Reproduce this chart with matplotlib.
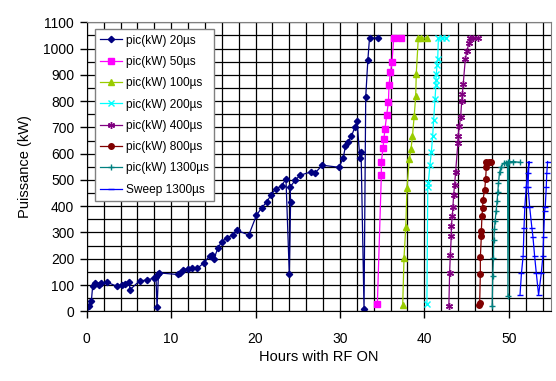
import matplotlib
matplotlib.use("Agg")
import matplotlib.pyplot as plt
from matplotlib.ticker import MultipleLocator

plt.rcParams['font.family'] = ['Liberation Sans', 'DejaVu Sans']

# pic(kW) 20us
h20 = [0, 0.27, 0.55, 0.7, 0.98, 1.46, 1.66, 2.44, 3.59, 4.2, 4.53, 5.04, 5.12, 6.3, 7.1,
       7.97, 8.2, 8.33, 8.5, 8.6, 10.76, 11.04, 11.43, 11.95, 12.5, 13.1, 13.9, 14.55, 14.87,
       15.07, 15.54, 15.97, 16.56, 17.3, 17.75, 19.2, 20.1, 20.75, 21.3, 21.8, 22.4, 23.1,
       23.6, 24.0, 24.15, 24.1, 24.7, 25.3, 26.6, 27.1, 27.9, 29.9, 30.4, 30.65, 30.95,
       31.36, 31.75, 32.03, 32.35, 32.5, 32.85, 33.05, 33.3, 33.5, 34.5]
p20 = [15, 20, 40, 95, 108, 101, 108, 110, 95, 101, 104, 110, 82, 117, 118,
       127, 131, 15, 142, 146, 140, 146, 157, 162, 163, 163, 185, 210, 216,
       200, 240, 264, 279, 291, 309, 290, 365, 395, 415, 441, 467, 477,
       505, 140, 415, 473, 499, 518, 531, 528, 556, 548, 585, 630, 646,
       666, 700, 723, 585, 608, 8, 815, 955, 1040, 1040]

# pic(kW) 50us
h50 = [34.43, 34.9, 34.9, 35.1, 35.2, 35.34, 35.54, 35.74, 35.81, 35.98, 36.17, 36.37, 37.28]
p50 = [27, 518, 569, 620, 656, 695, 749, 796, 860, 910, 950, 1040, 1040]

# pic(kW) 100us
h100 = [37.43, 37.59, 37.79, 37.94, 38.22, 38.42, 38.58, 38.8, 38.97, 39.04, 39.28, 39.6, 40.3]
p100 = [22, 204, 319, 470, 580, 618, 666, 745, 818, 905, 1040, 1040, 1040]

# pic(kW) 200us
h200 = [40.3, 40.4, 40.47, 40.66, 40.83, 40.98, 41.1, 41.26, 41.37, 41.37, 41.42, 41.5,
        41.58, 41.66, 42.13, 42.6]
p200 = [27, 474, 490, 557, 608, 667, 728, 808, 862, 882, 905, 938, 962, 1040, 1040, 1040]

# pic(kW) 400us
h400 = [42.9, 42.99, 43.07, 43.19, 43.19, 43.31, 43.38, 43.46, 43.58, 43.7, 43.97, 44.0,
        44.14, 44.3, 44.42, 44.5, 44.6, 44.85, 45.04, 45.28, 45.44, 45.75, 46.34]
p400 = [20, 146, 213, 287, 323, 362, 396, 441, 480, 531, 640, 667,
        705, 741, 800, 828, 865, 960, 992, 1020, 1040, 1040, 1040]

# pic(kW) 800us
h800 = [46.46, 46.55, 46.63, 46.63, 46.75, 46.75, 46.82, 46.9, 46.94, 47.14, 47.26, 47.34,
        47.34, 47.65, 47.93]
p800 = [24, 31, 142, 206, 287, 306, 362, 393, 425, 460, 505, 550, 570, 570, 570]

# pic(kW) 1300us
h1300 = [48.03, 48.1, 48.18, 48.22, 48.3, 48.38, 48.5, 48.62, 48.7, 48.78, 48.9, 49.1,
         49.38, 49.62, 49.85, 49.9, 50.0, 50.5, 51.3]
p1300 = [20, 134, 202, 271, 312, 344, 382, 420, 455, 487, 529, 550,
         563, 566, 569, 58, 569, 570, 567]

# Sweep 1300us
hsw = [51.33, 51.5, 51.7, 51.8, 51.9, 52.07, 52.23, 52.4, 52.27, 52.47, 52.74, 52.86,
       53.06, 53.26, 53.53, 53.85, 54.04, 54.12, 54.24, 54.32, 54.44, 54.5, 54.6]
psw = [62, 145, 210, 316, 398, 474, 525, 570, 474, 398, 316, 284,
       210, 145, 62, 145, 210, 284, 380, 398, 474, 525, 570]

series = [
    (h20, p20, 'pic(kW) 20µs', '#000080', 'D', 3.2),
    (h50, p50, 'pic(kW) 50µs', '#FF00FF', 's', 3.8),
    (h100, p100, 'pic(kW) 100µs', '#99CC00', '^', 4.2),
    (h200, p200, 'pic(kW) 200µs', '#00FFFF', 'x', 4),
    (h400, p400, 'pic(kW) 400µs', '#800080', (6, 2, 0), 5),
    (h800, p800, 'pic(kW) 800µs', '#800000', 'o', 4),
    (h1300, p1300, 'pic(kW) 1300µs', '#008080', '+', 5),
    (hsw, psw, 'Sweep 1300µs', '#0000FF', '_', 4),
]

fig = plt.figure(figsize=(5.56, 3.81), dpi=100)
ax = fig.add_axes([0.156, 0.183, 0.835, 0.7585])

for x, y, lab, c, m, ms in series:
    ax.plot(x, y, color=c, marker=m, markersize=ms, lw=0.9, label=lab,
            markeredgecolor=c, markerfacecolor=c, markeredgewidth=1)

ax.set_xlim(0, 55)
ax.set_ylim(0, 1100)
ax.xaxis.set_major_locator(MultipleLocator(10))
ax.xaxis.set_minor_locator(MultipleLocator(2))
ax.yaxis.set_major_locator(MultipleLocator(100))
ax.yaxis.set_minor_locator(MultipleLocator(50))
ax.grid(True, which='both', color='black', lw=0.9)
ax.set_axisbelow(True)
ax.tick_params(axis='both', which='major', direction='out', length=5, width=1,
               labelsize=10)
ax.tick_params(axis='x', which='major', pad=10)
ax.tick_params(axis='y', which='major', pad=4)
ax.tick_params(axis='both', which='minor', length=0)
for s in ['top', 'right']:
    ax.spines[s].set_color('#808080')
for s in ['left', 'bottom']:
    ax.spines[s].set_color('black')

ax.set_xlabel('Hours with RF ON', fontsize=10.5, labelpad=3)
ax.set_ylabel('Puissance (kW)', fontsize=10.5, labelpad=8)

leg = ax.legend(loc='upper left', bbox_to_anchor=(0.018, 0.976), borderaxespad=0,
                fontsize=8.6, fancybox=False, framealpha=1, edgecolor='#808080',
                handlelength=1.8, labelspacing=0.78, handletextpad=0.3,
                borderpad=0.45)
leg.get_frame().set_linewidth(1)

fig.savefig('out.png', dpi=100)
